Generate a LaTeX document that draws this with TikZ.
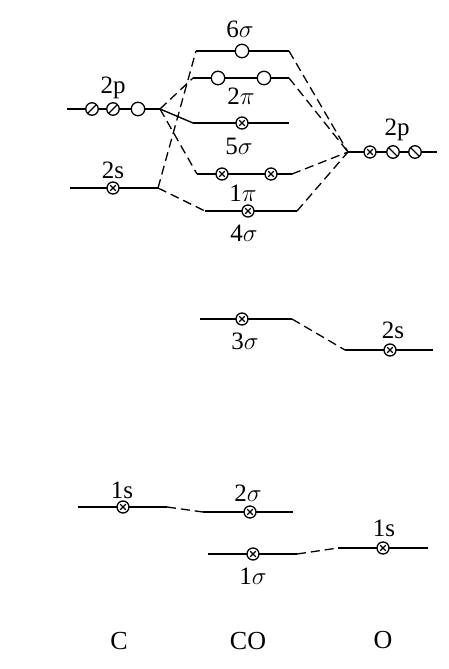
\documentclass[tikz,border=0pt]{standalone}
\usepackage{fontspec}
\setmainfont{Liberation Serif}
\begin{document}
\begin{tikzpicture}[x=1pt,y=-1pt,
  lvl/.style={line width=1.4pt},
  conn/.style={line width=1.3pt, dash pattern=on 9pt off 5pt},
  orb/.style={circle, draw, fill=white, line width=1.3pt, inner sep=0pt, minimum size=12.5pt},
  occ/.style={orb, minimum size=12pt, path picture={
     \draw[line width=1.1pt] ([shift={(-2.8pt,-2.8pt)}]path picture bounding box.center) -- ++(5.6pt,5.6pt);
     \draw[line width=1.1pt] ([shift={(-2.8pt,2.8pt)}]path picture bounding box.center) -- ++(5.6pt,-5.6pt);}},
  emp/.style={orb, minimum size=13.5pt},
  slA/.style={orb, path picture={\draw[line width=1.4pt] (path picture bounding box.south west) -- (path picture bounding box.north east);}},
  slB/.style={orb, path picture={\draw[line width=1.4pt] (path picture bounding box.north west) -- (path picture bounding box.south east);}},
  lab/.style={font=\fontsize{25}{28}\selectfont, inner sep=0pt},
  atom/.style={font=\fontsize{26}{30}\selectfont, inner sep=0pt}]
\useasboundingbox (0,0) rectangle (448,669);
% ---- level end points ----
\coordinate (c2pL) at (67,109);  \coordinate (c2pR) at (160,109);
\coordinate (c2sL) at (70,188);  \coordinate (c2sR) at (158,188);
\coordinate (c1sL) at (78,507);  \coordinate (c1sR) at (167,507);
\coordinate (s6L) at (196,51);   \coordinate (s6R) at (289,51);
\coordinate (p2L) at (193,78);   \coordinate (p2R) at (289,78);
\coordinate (s5L) at (193,123);  \coordinate (s5R) at (289,123);
\coordinate (p1L) at (197,174);  \coordinate (p1R) at (292,174);
\coordinate (s4L) at (205,211);  \coordinate (s4R) at (297,211);
\coordinate (s3L) at (200,319);  \coordinate (s3R) at (292,319);
\coordinate (s2L) at (203,512);  \coordinate (s2R) at (293,512);
\coordinate (s1L) at (208,554);  \coordinate (s1R) at (297,554);
\coordinate (o2pL) at (348,152); \coordinate (o2pR) at (437,152);
\coordinate (o2sL) at (345,350); \coordinate (o2sR) at (433,350);
\coordinate (o1sL) at (338,548); \coordinate (o1sR) at (428,548);
% ---- level lines ----
\foreach \a/\b in {c2pL/c2pR,c2sL/c2sR,c1sL/c1sR,s6L/s6R,p2L/p2R,s5L/s5R,p1L/p1R,s4L/s4R,s3L/s3R,s2L/s2R,s1L/s1R,o2pL/o2pR,o2sL/o2sR,o1sL/o1sR}
  \draw[lvl] (\a) -- (\b);
% ---- connectors ----
\draw[conn] (c2pR) -- (p2L);
\draw[lvl] (c2pR) -- (s5L);
\draw[conn] (c2pR) -- (p1L);
\draw[conn] (c2sR) -- (s6L);
\draw[conn] (c2sR) -- (s4L);
\draw[conn] (s6R) -- (o2pL);
\draw[conn] (p2R) -- (o2pL);
\draw[conn] (p1R) -- (o2pL);
\draw[conn] (s4R) -- (o2pL);
\draw[conn] (s3R) -- (o2sL);
\draw[conn] (c1sR) -- (s2L);
\draw[conn] (s1R) -- (o1sL);
% ---- orbital occupancy ----
\node[slA] (c2pa) at (92,109) {};
\node[slA] (c2pb) at (113,109) {};
\node[emp] (c2pc) at (138,109) {};
\node[occ] (c2sa) at (113,188) {};
\node[occ] (c1sa) at (123,507) {};
\node[emp] (s6a) at (242,51) {};
\node[emp] (p2a) at (218,78) {};
\node[emp] (p2b) at (264,78) {};
\node[occ] (s5a) at (242,123) {};
\node[occ] (p1a) at (222,174) {};
\node[occ] (p1b) at (271,174) {};
\node[occ] (s4a) at (248,211) {};
\node[occ] (s3a) at (242,319) {};
\node[occ] (s2a) at (250,512) {};
\node[occ] (s1a) at (253,554) {};
\node[occ] (o2pa) at (370,152) {};
\node[slB] (o2pb) at (393,152) {};
\node[slB] (o2pc) at (415,152) {};
\node[occ] (o2sa) at (390,350) {};
\node[occ] (o1sa) at (383,548) {};
% ---- labels ----
\node[lab] (l6s) at (240,29) {6$\sigma$};
\node[lab] (l2pi) at (241,96) {2$\pi$};
\node[lab] (l5s) at (239,146) {5$\sigma$};
\node[lab] (l1pi) at (243,193) {1$\pi$};
\node[lab] (l4s) at (244,233) {4$\sigma$};
\node[lab] (l3s) at (245,341) {3$\sigma$};
\node[lab] (l2s) at (248,493) {2$\sigma$};
\node[lab] (l1s) at (253,576) {1$\sigma$};
\node[lab] (lc2p) at (113,88) {2p};
\node[lab] (lc2s) at (113,170) {2s};
\node[lab] (lc1s) at (122,490) {1s};
\node[lab] (lo2p) at (397,130) {2p};
\node[lab] (lo2s) at (393,330) {2s};
\node[lab] (lo1s) at (384,528) {1s};
\node[atom] (aC) at (119,641) {C};
\node[atom] (aCO) at (248,641) {CO};
\node[atom] (aO) at (383,640) {O};
\end{tikzpicture}
\end{document}
